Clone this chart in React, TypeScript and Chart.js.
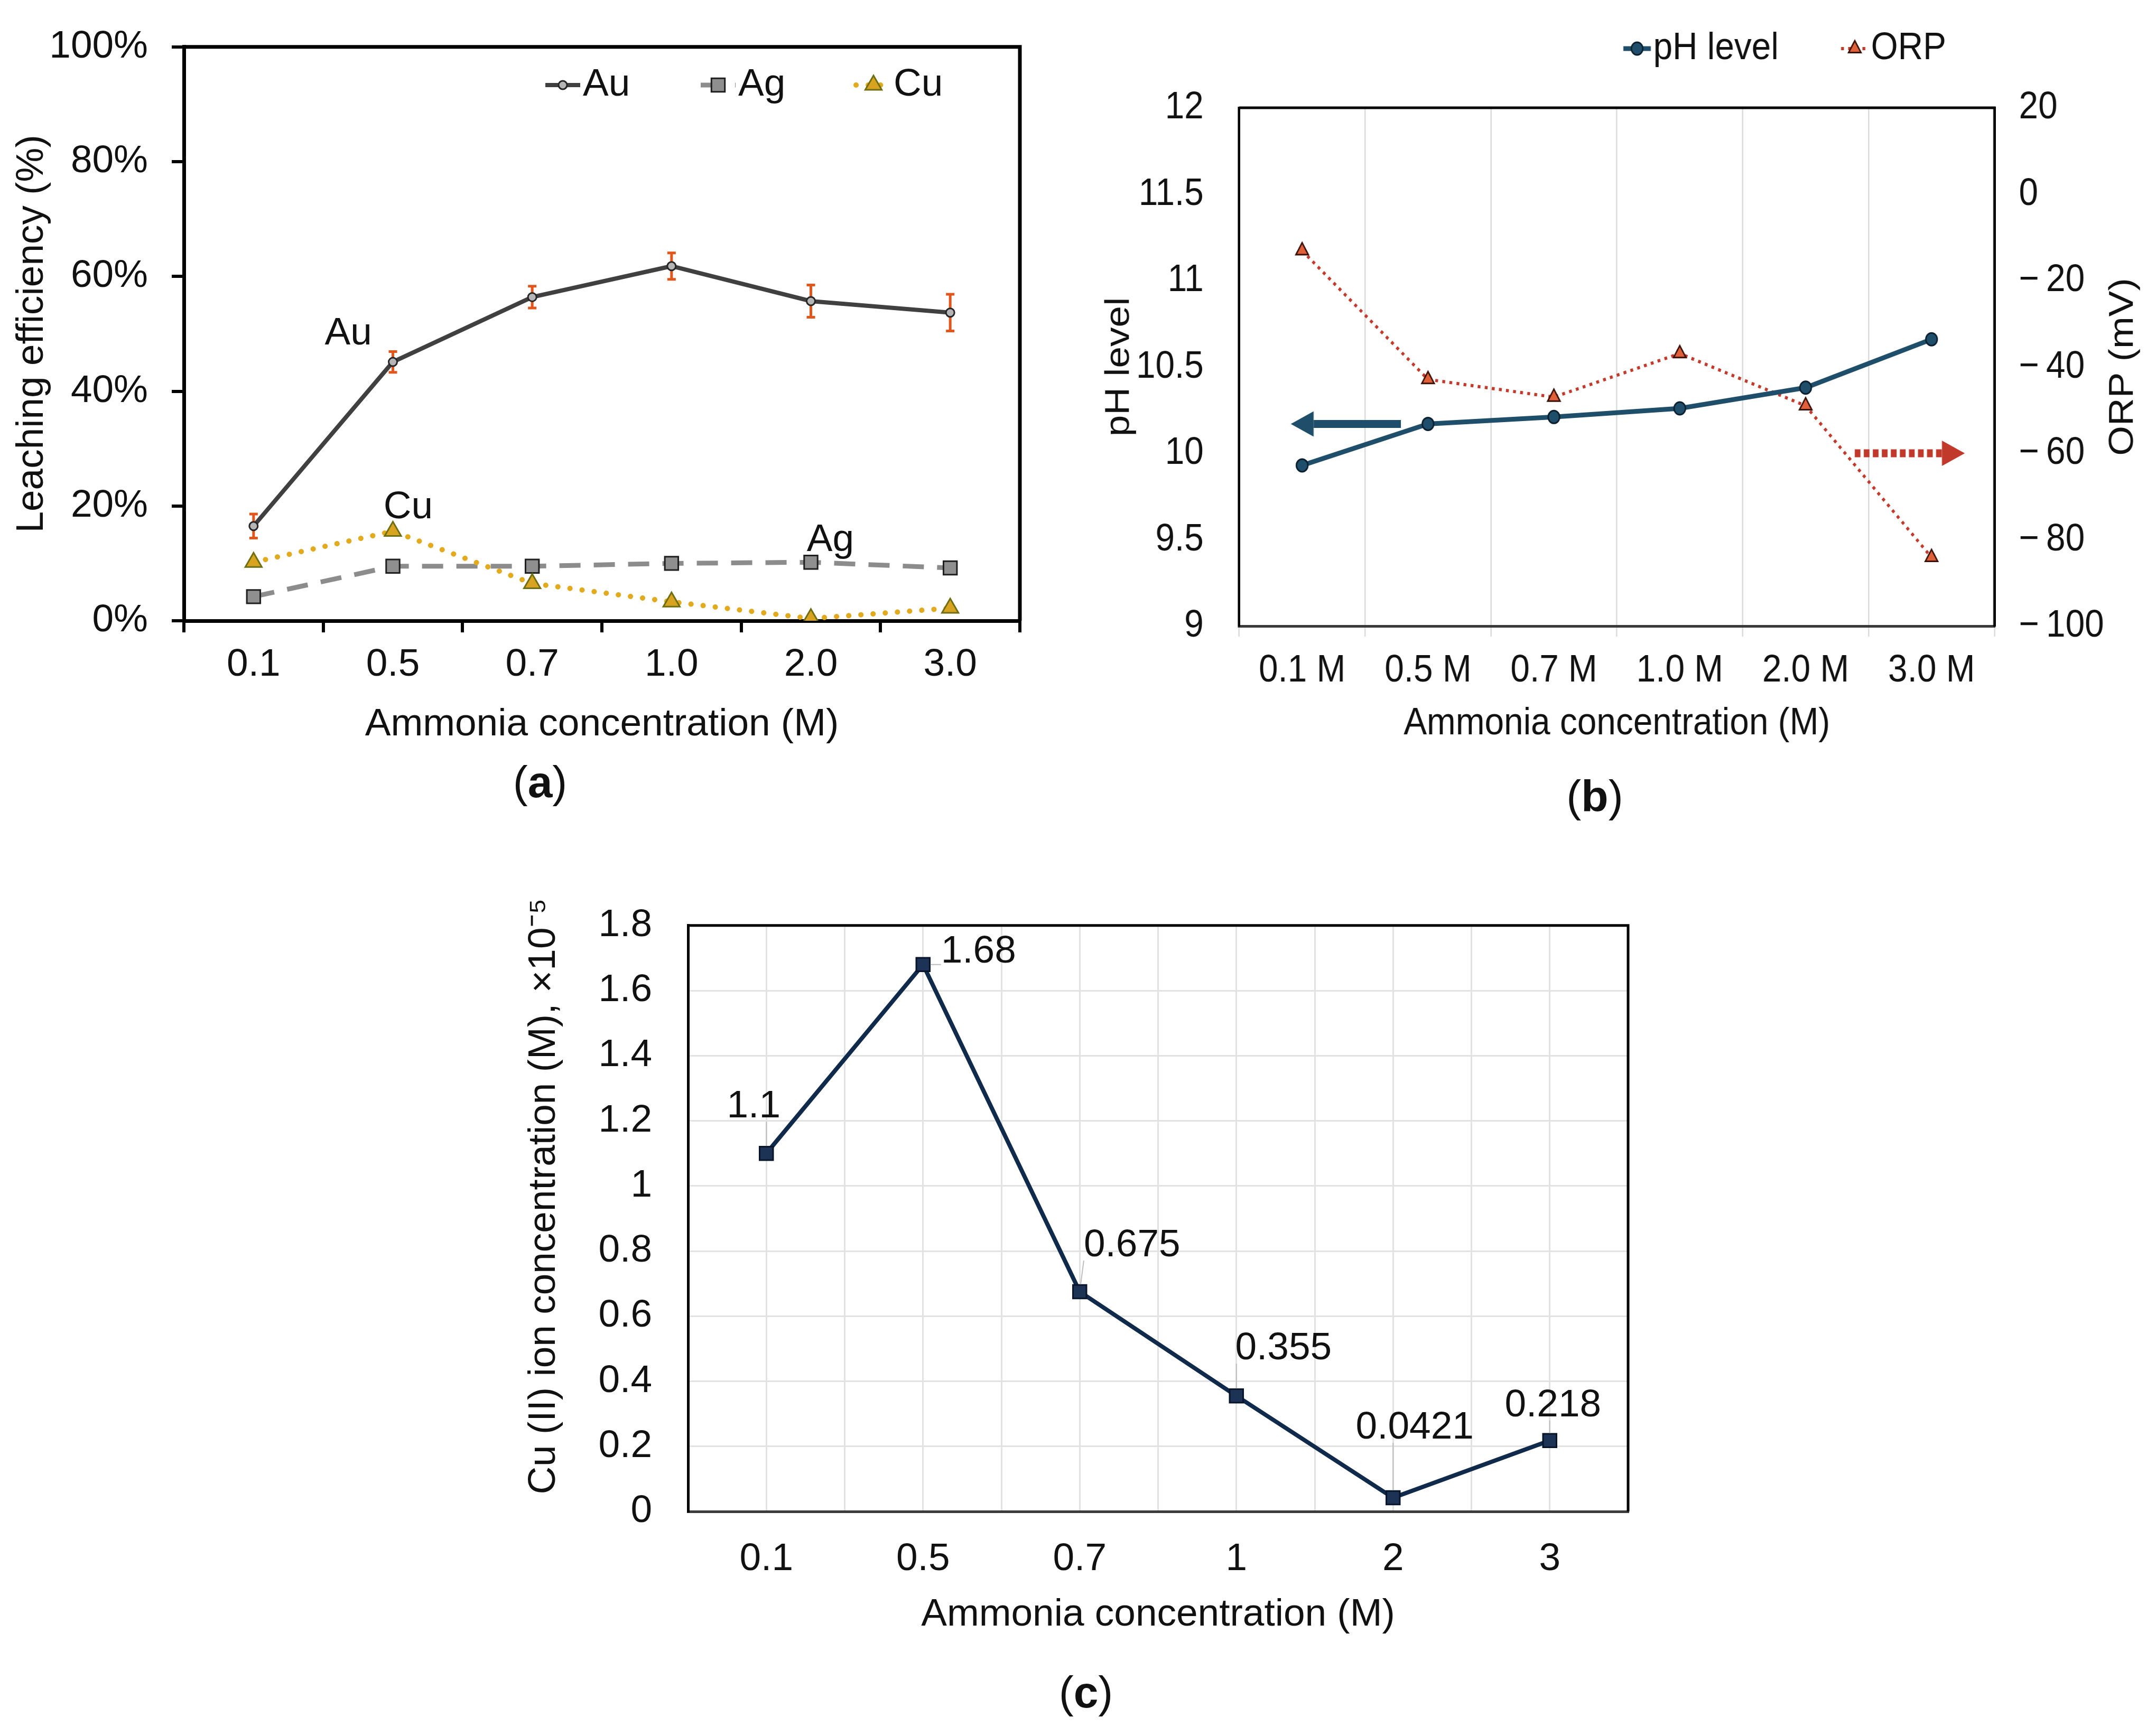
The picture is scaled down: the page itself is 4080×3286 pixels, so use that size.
import { FC, useEffect, useRef } from "react";
import Chart from "chart.js/auto";

const FONT = "'Liberation Sans', Arial, Helvetica, sans-serif";
const FS = 73;
const INK = "#111111";

Chart.defaults.font.family = FONT;
Chart.defaults.font.size = FS;
Chart.defaults.color = INK;

// (a) leaching efficiency (%)
const leachCategories = ["0.1", "0.5", "0.7", "1.0", "2.0", "3.0"];
const auLeach = [16.5, 45.1, 56.4, 61.8, 55.7, 53.7];
const auLeachErr = [2.1, 1.8, 1.9, 2.3, 2.8, 3.2];
const agLeach = [4.2, 9.5, 9.5, 10.0, 10.2, 9.2];
const cuLeach = [10.2, 15.6, 6.5, 3.3, 0.4, 2.2];
const leachTicks = [0, 20, 40, 60, 80, 100];
// text notes, in data units (category index, %)
const leachNotes = [
  { text: "Au", x: 0.68, y: 50.0 },
  { text: "Cu", x: 1.11, y: 19.7 },
  { text: "Ag", x: 4.14, y: 14.0 },
];

// (b) pH and ORP
const phCategories = ["0.1 M", "0.5 M", "0.7 M", "1.0 M", "2.0 M", "3.0 M"];
const phLevel = [9.93, 10.17, 10.21, 10.26, 10.38, 10.66];
const orpMv = [-13.1, -42.9, -47.0, -36.9, -49.0, -84.1];
const phTicks = [9, 9.5, 10, 10.5, 11, 11.5, 12];
const orpTicks = [-100, -80, -60, -40, -20, 0, 20];
// axis arrows, in data units (category index, axis value)
const phArrow = { from: 0.785, to: -0.09, value: 10.17 };
const orpArrow = { from: 4.39, to: 5.264, value: -60 };

// (c) Cu(II) ion concentration, x1e-5 M
const cuIonCategories = ["0.1", "0.5", "0.7", "1", "2", "3"];
const cuIon = [1.1, 1.68, 0.675, 0.355, 0.0421, 0.218];
const cuIonTicks = [0, 0.2, 0.4, 0.6, 0.8, 1, 1.2, 1.4, 1.6, 1.8];
// where each value label sits relative to its point (px)
const cuIonLabelOffsets = [
  [-24, -88],
  [105, -24],
  [99, -87],
  [89, -89],
  [41, -132],
  [6, -66],
];

// panel (b) is drawn wider and squeezed sideways, like the narrow text of the original
const SX_B = 0.9;
const bx = (v: number) => v / SX_B;

type MarkerStyle = {
  style: "circle" | "rect" | "triangle";
  r: number;
  fill: string;
  stroke: string;
  width: number;
};
type SeriesStyle = {
  color: string;
  width: number;
  dash: number[];
  cap: CanvasLineCap;
  marker: MarkerStyle;
};

const AU: SeriesStyle = {
  color: "#404040",
  width: 8,
  dash: [],
  cap: "butt",
  marker: { style: "circle", r: 8, fill: "#b5b5b5", stroke: "#262626", width: 3 },
};
const AG: SeriesStyle = {
  color: "#8c8c8c",
  width: 9,
  dash: [40, 25],
  cap: "butt",
  marker: { style: "rect", r: 18, fill: "#8f8f8f", stroke: "#1f1f1f", width: 3 },
};
const CU: SeriesStyle = {
  color: "#e2aa1f",
  width: 10,
  dash: [0.1, 23],
  cap: "round",
  marker: { style: "triangle", r: 18, fill: "#d8a320", stroke: "#6e6e12", width: 3 },
};
const PH: SeriesStyle = {
  color: "#1f4e6b",
  width: 9,
  dash: [],
  cap: "butt",
  marker: { style: "circle", r: 12, fill: "#1f4e6b", stroke: "#0b1f2e", width: 3 },
};
const ORP: SeriesStyle = {
  color: "#c0392b",
  width: 6,
  dash: [6, 9],
  cap: "butt",
  marker: { style: "triangle", r: 15, fill: "#e0603a", stroke: "#3a1208", width: 3 },
};
const CUION: SeriesStyle = {
  color: "#0f2a4a",
  width: 8,
  dash: [],
  cap: "butt",
  marker: { style: "rect", r: 18, fill: "#1c3356", stroke: "#08142a", width: 3 },
};

function drawMarker(ctx: CanvasRenderingContext2D, m: MarkerStyle, x: number, y: number) {
  ctx.save();
  ctx.beginPath();
  if (m.style === "circle") {
    ctx.arc(x, y, m.r, 0, Math.PI * 2);
  } else if (m.style === "rect") {
    const s = m.r * Math.SQRT1_2;
    ctx.rect(x - s, y - s, 2 * s, 2 * s);
  } else {
    for (let k = 0; k < 3; k++) {
      const a = (k * 2 * Math.PI) / 3;
      const px = x + Math.sin(a) * m.r;
      const py = y - Math.cos(a) * m.r;
      if (k === 0) ctx.moveTo(px, py);
      else ctx.lineTo(px, py);
    }
    ctx.closePath();
  }
  ctx.fillStyle = m.fill;
  ctx.fill();
  ctx.lineWidth = m.width;
  ctx.strokeStyle = m.stroke;
  ctx.stroke();
  ctx.restore();
}

function drawLegendItem(
  ctx: CanvasRenderingContext2D,
  s: SeriesStyle,
  text: string,
  x: number,
  y: number,
  len: number
) {
  ctx.save();
  ctx.strokeStyle = s.color;
  ctx.lineWidth = s.width;
  ctx.setLineDash(s.dash);
  ctx.lineCap = s.cap;
  ctx.beginPath();
  ctx.moveTo(x, y);
  ctx.lineTo(x + len, y);
  ctx.stroke();
  ctx.setLineDash([]);
  drawMarker(ctx, s.marker, x + len / 2, y);
  ctx.fillStyle = INK;
  ctx.font = `${FS}px ${FONT}`;
  ctx.textAlign = "left";
  ctx.textBaseline = "middle";
  ctx.fillText(text, x + len + 5, y);
  ctx.restore();
}

function lineDataset(label: string, data: any[], s: SeriesStyle, extra: any = {}) {
  return {
    label,
    data,
    borderColor: s.color,
    borderWidth: s.width,
    borderDash: s.dash,
    borderCapStyle: s.cap,
    pointStyle: s.marker.style,
    pointRadius: s.marker.r,
    pointBackgroundColor: s.marker.fill,
    pointBorderColor: s.marker.stroke,
    pointBorderWidth: s.marker.width,
    tension: 0,
    fill: false,
    ...extra,
  };
}

// top and right edges of the plot box
const framePlugin = (color: string, width: number) => ({
  id: "frame",
  beforeDatasetsDraw(chart: any) {
    const { ctx, chartArea: a } = chart;
    ctx.save();
    ctx.strokeStyle = color;
    ctx.lineWidth = width;
    ctx.lineJoin = "miter";
    ctx.beginPath();
    ctx.moveTo(a.left, a.top);
    ctx.lineTo(a.right, a.top);
    ctx.lineTo(a.right, a.bottom);
    ctx.stroke();
    ctx.restore();
  },
});

function drawArrow(
  ctx: CanvasRenderingContext2D,
  x1: number,
  x2: number,
  y: number,
  color: string,
  dash: number[]
) {
  const dir = Math.sign(x2 - x1);
  const head = 48;
  const half = 24;
  ctx.save();
  ctx.strokeStyle = color;
  ctx.fillStyle = color;
  ctx.lineWidth = 15;
  ctx.setLineDash(dash);
  ctx.beginPath();
  ctx.moveTo(x1, y);
  ctx.lineTo(x2 - dir * head, y);
  ctx.stroke();
  ctx.setLineDash([]);
  ctx.beginPath();
  ctx.moveTo(x2, y);
  ctx.lineTo(x2 - dir * head, y - half);
  ctx.lineTo(x2 - dir * head, y + half);
  ctx.closePath();
  ctx.fill();
  ctx.restore();
}

// ---------- (a)
const errorBarsPlugin = {
  id: "errorBars",
  beforeDatasetsDraw(chart: any) {
    const { ctx } = chart;
    const y = chart.scales.y;
    const meta = chart.getDatasetMeta(0);
    ctx.save();
    ctx.strokeStyle = "#e2561b";
    ctx.lineWidth = 5;
    meta.data.forEach((pt: any, i: number) => {
      const top = y.getPixelForValue(auLeach[i] + auLeachErr[i]);
      const bot = y.getPixelForValue(auLeach[i] - auLeachErr[i]);
      ctx.beginPath();
      ctx.moveTo(pt.x, top);
      ctx.lineTo(pt.x, bot);
      ctx.moveTo(pt.x - 8, top);
      ctx.lineTo(pt.x + 8, top);
      ctx.moveTo(pt.x - 8, bot);
      ctx.lineTo(pt.x + 8, bot);
      ctx.stroke();
    });
    ctx.restore();
  },
};

const leachDecorPlugin = {
  id: "leachDecor",
  afterDatasetsDraw(chart: any) {
    const { ctx } = chart;
    const { x, y } = chart.scales;
    drawLegendItem(ctx, AU, "Au", 1032, 161, 66);
    drawLegendItem(ctx, AG, "Ag", 1326, 161, 66);
    drawLegendItem(ctx, CU, "Cu", 1620, 161, 66);
    ctx.save();
    ctx.font = `${FS}px ${FONT}`;
    ctx.fillStyle = INK;
    ctx.textAlign = "center";
    ctx.textBaseline = "middle";
    leachNotes.forEach((n) => ctx.fillText(n.text, x.getPixelForValue(n.x), y.getPixelForValue(n.y)));
    ctx.restore();
  },
};

function buildLeaching(): any {
  return {
    type: "line",
    data: {
      labels: leachCategories,
      datasets: [
        lineDataset("Au", auLeach, AU),
        lineDataset("Cu", cuLeach, CU),
        lineDataset("Ag", agLeach, AG),
      ],
    },
    options: {
      animation: false,
      responsive: false,
      devicePixelRatio: 1,
      layout: { padding: { top: 68, right: 110, bottom: 0, left: 0 } },
      plugins: { legend: { display: false }, tooltip: { enabled: false } },
      scales: {
        x: {
          offset: true,
          grid: { offset: true, drawOnChartArea: false, drawTicks: true, tickLength: 22, color: "#000", lineWidth: 6 },
          border: { display: true, color: "#000", width: 7 },
          ticks: { padding: 18, autoSkip: false, maxRotation: 0, color: INK },
          title: {
            display: true,
            text: "Ammonia concentration (M)",
            color: INK,
            padding: { top: 0, bottom: 144 },
          },
          afterFit: (s: any) => {
            s.height = 385;
          },
        },
        y: {
          min: leachTicks[0],
          max: leachTicks[leachTicks.length - 1],
          grid: { drawOnChartArea: false, drawTicks: true, tickLength: 23, color: "#000", lineWidth: 6 },
          border: { display: true, color: "#000", width: 7 },
          ticks: {
            stepSize: leachTicks[1] - leachTicks[0],
            padding: 45,
            color: INK,
            callback: (v: any) => `${v}%`,
          },
          title: {
            display: true,
            text: "Leaching efficiency (%)",
            color: INK,
            padding: { top: 17, bottom: 0 },
          },
          afterFit: (s: any) => {
            s.width = 348;
          },
        },
      },
    },
    plugins: [framePlugin("#000", 7), errorBarsPlugin, leachDecorPlugin],
  };
}

// ---------- (b)
const phDecorPlugin = {
  id: "phDecor",
  afterDatasetsDraw(chart: any) {
    const { ctx, chartArea: a } = chart;
    const { x, y, y1 } = chart.scales;
    drawArrow(
      ctx,
      x.getPixelForValue(phArrow.from),
      x.getPixelForValue(phArrow.to),
      y.getPixelForValue(phArrow.value),
      PH.color,
      []
    );
    drawArrow(
      ctx,
      x.getPixelForValue(orpArrow.from),
      x.getPixelForValue(orpArrow.to),
      y1.getPixelForValue(orpArrow.value),
      "#c0392b",
      [12, 7]
    );
    drawLegendItem(ctx, PH, "pH level", bx(1032), 92, bx(52));
    drawLegendItem(ctx, ORP, "ORP", bx(1444), 92, bx(52));
    ctx.save();
    ctx.font = `${FS}px ${FONT}`;
    ctx.fillStyle = INK;
    ctx.textAlign = "center";
    ctx.textBaseline = "middle";
    ctx.translate(y1.right - bx(62), (a.top + a.bottom) / 2);
    ctx.rotate(-Math.PI / 2);
    ctx.fillText("ORP (mV)", 0, 0);
    ctx.restore();
  },
};

function buildPh(): any {
  return {
    type: "line",
    data: {
      labels: phCategories,
      datasets: [
        lineDataset("pH level", phLevel, PH, { yAxisID: "y" }),
        lineDataset("ORP", orpMv, ORP, { yAxisID: "y1" }),
      ],
    },
    options: {
      animation: false,
      responsive: false,
      devicePixelRatio: 1,
      layout: { padding: { top: 204, right: 0, bottom: 0, left: 0 } },
      plugins: { legend: { display: false }, tooltip: { enabled: false } },
      scales: {
        x: {
          offset: true,
          grid: { offset: true, drawOnChartArea: true, drawTicks: true, tickLength: 20, color: "#dcdcdc", lineWidth: 3 },
          border: { display: true, color: "#3a3a3a", width: 5 },
          ticks: { padding: 21, autoSkip: false, maxRotation: 0, color: INK },
          title: {
            display: true,
            text: "Ammonia concentration (M)",
            color: INK,
            padding: { top: 0, bottom: 146 },
          },
          afterFit: (s: any) => {
            s.height = 375;
          },
        },
        y: {
          position: "left",
          min: phTicks[0],
          max: phTicks[phTicks.length - 1],
          grid: { display: false },
          border: { display: true, color: "#000", width: 5 },
          ticks: { stepSize: phTicks[1] - phTicks[0], padding: bx(60), color: INK, callback: (v: any) => String(v) },
          title: { display: true, text: "pH level", color: INK, padding: { top: bx(78) - 43.8, bottom: 0 } },
          afterFit: (s: any) => {
            s.width = bx(305);
          },
        },
        y1: {
          position: "right",
          min: orpTicks[0],
          max: orpTicks[orpTicks.length - 1],
          grid: { display: false },
          border: { display: true, color: "#000", width: 5 },
          ticks: {
            stepSize: orpTicks[1] - orpTicks[0],
            padding: bx(39),
            color: INK,
            callback: (v: any) => (v < 0 ? "\u2212\u2009" + Math.abs(v) : String(v)),
          },
          afterFit: (s: any) => {
            s.width = bx(306);
          },
        },
      },
    },
    plugins: [framePlugin("#000", 5), phDecorPlugin],
  };
}

// ---------- (c)
const cuIonDecorPlugin = {
  id: "cuIonDecor",
  afterDatasetsDraw(chart: any) {
    const { ctx, chartArea: a } = chart;
    const meta = chart.getDatasetMeta(0);
    ctx.save();
    ctx.font = `${FS}px ${FONT}`;
    ctx.textAlign = "center";
    ctx.textBaseline = "middle";
    meta.data.forEach((pt: any, i: number) => {
      const [dx, dy] = cuIonLabelOffsets[i];
      const txt = String(cuIon[i]);
      const cx = pt.x + dx;
      const cy = pt.y + dy;
      const w = ctx.measureText(txt).width;
      const h = 56;
      const nx = Math.min(Math.max(pt.x, cx - w / 2), cx + w / 2);
      const ny = Math.min(Math.max(pt.y, cy - h / 2), cy + h / 2);
      const d = Math.hypot(nx - pt.x, ny - pt.y);
      if (d > 30) {
        const sx = pt.x + ((nx - pt.x) / d) * 14;
        const sy = pt.y + ((ny - pt.y) / d) * 14;
        ctx.strokeStyle = "#bdbdbd";
        ctx.lineWidth = 2;
        ctx.beginPath();
        ctx.moveTo(sx, sy);
        ctx.lineTo(nx, ny);
        ctx.stroke();
      }
      ctx.fillStyle = INK;
      ctx.fillText(txt, cx, cy);
    });
    // y title, sitting a little above the middle of the axis as in the original
    ctx.translate(130, (a.top + a.bottom) / 2 - 42);
    ctx.rotate(-Math.PI / 2);
    ctx.fillStyle = INK;
    ctx.fillText("Cu (II) ion concentration (M), \u00d710\u207b\u2075", 0, 0);
    ctx.restore();
  },
};

function buildCuIon(): any {
  return {
    type: "line",
    data: {
      datasets: [
        lineDataset(
          "Cu (II)",
          cuIon.map((v, i) => ({ x: i, y: v })),
          CUION
        ),
      ],
    },
    options: {
      animation: false,
      responsive: false,
      devicePixelRatio: 1,
      layout: { padding: { top: 86, right: 119, bottom: 0, left: 0 } },
      plugins: { legend: { display: false }, tooltip: { enabled: false } },
      scales: {
        x: {
          type: "linear",
          min: -0.5,
          max: cuIonCategories.length - 0.5,
          grid: { drawTicks: false, color: "#e2e2e2", lineWidth: 3 },
          border: { display: true, color: "#3c3c3c", width: 5 },
          ticks: {
            stepSize: 0.5,
            autoSkip: false,
            maxRotation: 0,
            padding: 47,
            color: INK,
            callback: (v: any) => {
              const k = Math.round(Number(v) * 2);
              return k >= 0 && k % 2 === 0 ? cuIonCategories[k / 2] ?? "" : "";
            },
          },
          title: {
            display: true,
            text: "Ammonia concentration (M)",
            color: INK,
            padding: { top: 0, bottom: 185 },
          },
          afterFit: (s: any) => {
            s.height = 425;
          },
        },
        y: {
          min: cuIonTicks[0],
          max: cuIonTicks[cuIonTicks.length - 1],
          grid: { drawTicks: false, color: "#e2e2e2", lineWidth: 3 },
          border: { display: true, color: "#000", width: 5 },
          ticks: {
            stepSize: cuIonTicks[1] - cuIonTicks[0],
            padding: 68,
            color: INK,
            callback: (v: any) => String(Math.round(Number(v) * 10) / 10),
          },
          afterFit: (s: any) => {
            s.width = 402;
          },
        },
      },
    },
    plugins: [framePlugin("#000", 5), cuIonDecorPlugin],
  };
}

interface PanelProps {
  build: () => any;
  left: number;
  top: number;
  width: number;
  height: number;
  sx?: number;
}

const ChartPanel: FC<PanelProps> = ({ build, left, top, width, height, sx = 1 }) => {
  const canvasRef = useRef<HTMLCanvasElement | null>(null);
  const chartRef = useRef<Chart | null>(null);
  const innerWidth = Math.round(width / sx);

  useEffect(() => {
    if (!canvasRef.current) return;
    if (chartRef.current) chartRef.current.destroy();
    chartRef.current = new Chart(canvasRef.current, build());
    return () => {
      if (chartRef.current) {
        chartRef.current.destroy();
        chartRef.current = null;
      }
    };
  }, [build]);

  return (
    <div style={{ position: "absolute", left, top, width, height }}>
      <canvas
        ref={canvasRef}
        width={innerWidth}
        height={height}
        style={{
          display: "block",
          width: innerWidth,
          height,
          transform: sx === 1 ? undefined : `scaleX(${sx})`,
          transformOrigin: "0 0",
        }}
      />
    </div>
  );
};

const Caption: FC<{ letter: string; x: number; y: number }> = ({ letter, x, y }) => (
  <div
    style={{
      position: "absolute",
      left: x,
      top: y,
      transform: "translate(-50%, -50%)",
      font: `84px ${FONT}`,
      lineHeight: 1,
      color: INK,
      whiteSpace: "nowrap",
    }}
  >
    (<b>{letter}</b>)
  </div>
);

export default function App() {
  return (
    <div
      style={{
        position: "absolute",
        left: 0,
        top: 0,
        width: 4080,
        height: 3286,
        background: "#fff",
        overflow: "hidden",
      }}
    >
      <ChartPanel build={buildLeaching} left={0} top={0} width={2040} height={1560} />
      <ChartPanel build={buildPh} left={2040} top={0} width={2040} height={1560} sx={SX_B} />
      <ChartPanel build={buildCuIon} left={900} top={1640} width={2300} height={1646} />
      <Caption letter="a" x={1022} y={1480} />
      <Caption letter="b" x={3018} y={1507} />
      <Caption letter="c" x={2055} y={3203} />
    </div>
  );
}
